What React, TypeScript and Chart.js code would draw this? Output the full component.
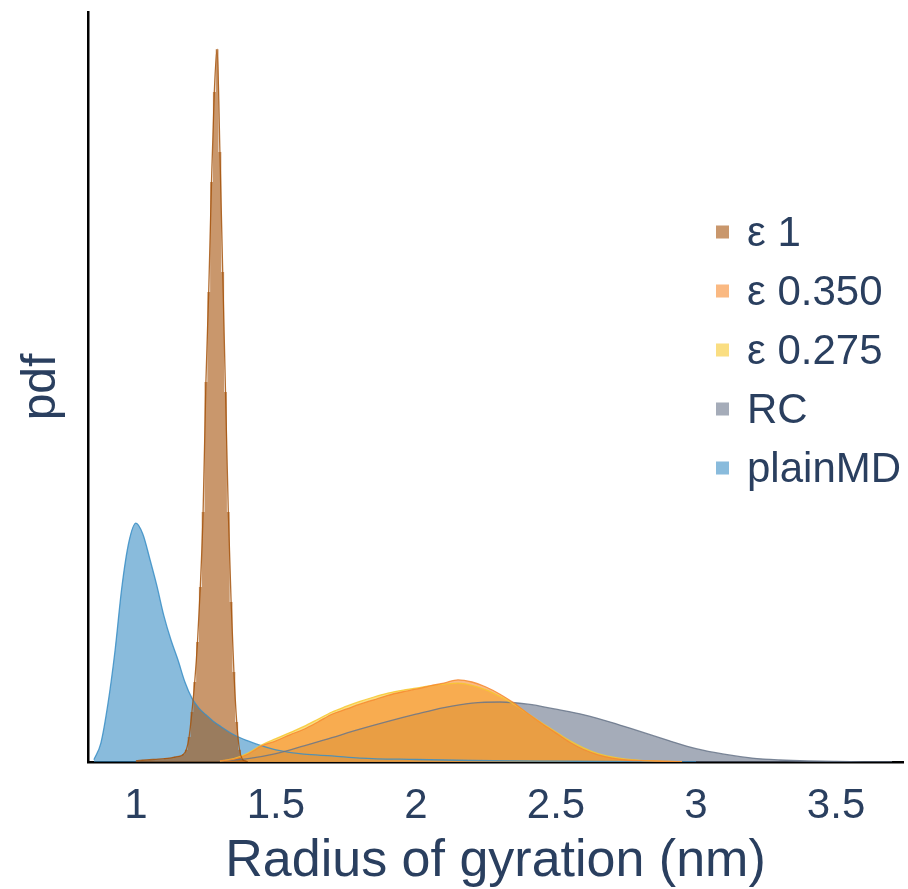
import React, { useEffect, useRef } from "react";
import { Chart, registerables } from "chart.js";

Chart.register(...registerables);

const FONT = '"Liberation Sans", Arial, Helvetica, sans-serif';
const TEXT_COLOR = "#2a3f5f";

const SERIES_NAMES = ["ε 1", "ε 0.350", "ε 0.275", "RC", "plainMD"];
const SERIES_COLORS = [
  "165,82,10",
  "247,138,47",
  "247,200,47",
  "105,117,138",
  "58,142,197",
];

const X_MIN = 0.829;
const X_MAX = 3.739;
const X_STEP = 0.5;
const Y_MAX = 13.5;

// ε 1 (histogram, fine bins)
const EPS1_X = [1.0, 1.04, 1.08, 1.12, 1.14, 1.16, 1.17, 1.18, 1.19, 1.2, 1.21, 1.22, 1.23, 1.24, 1.25, 1.26, 1.27, 1.28, 1.29, 1.3, 1.31, 1.32, 1.33, 1.34, 1.35, 1.36, 1.37, 1.38, 1.39, 1.4];
const EPS1_PDF = [0.02, 0.04, 0.05, 0.07, 0.09, 0.11, 0.14, 0.22, 0.45, 0.9, 1.44, 2.16, 3.15, 4.5, 6.84, 8.46, 10.44, 12.06, 12.83, 10.98, 8.82, 6.66, 4.5, 2.88, 1.62, 0.72, 0.22, 0.05, 0.02, 0.0];

// ε 0.350
const EPS350_X = [1.3, 1.35, 1.4, 1.45, 1.5, 1.55, 1.6, 1.65, 1.7, 1.75, 1.8, 1.85, 1.9, 1.95, 2.0, 2.05, 2.1, 2.15, 2.2, 2.25, 2.3, 2.35, 2.4, 2.45, 2.5, 2.55, 2.6, 2.65, 2.7, 2.75, 2.8, 2.85, 2.9, 2.95];
const EPS350_PDF = [0.02, 0.05, 0.14, 0.29, 0.38, 0.49, 0.59, 0.72, 0.86, 0.95, 1.04, 1.12, 1.2, 1.26, 1.31, 1.37, 1.42, 1.48, 1.44, 1.35, 1.22, 1.06, 0.87, 0.69, 0.52, 0.35, 0.22, 0.13, 0.07, 0.036, 0.023, 0.018, 0.009, 0.004];

// ε 0.275
const EPS275_X = [1.3, 1.35, 1.4, 1.45, 1.5, 1.55, 1.6, 1.65, 1.7, 1.75, 1.8, 1.85, 1.9, 1.95, 2.0, 2.05, 2.1, 2.15, 2.2, 2.25, 2.3, 2.35, 2.4, 2.45, 2.5, 2.55, 2.6, 2.65, 2.7, 2.75, 2.8, 2.85, 2.9, 2.95];
const EPS275_PDF = [0.02, 0.06, 0.16, 0.31, 0.42, 0.53, 0.64, 0.77, 0.9, 1.0, 1.09, 1.17, 1.24, 1.29, 1.33, 1.37, 1.4, 1.42, 1.38, 1.3, 1.18, 1.04, 0.87, 0.7, 0.54, 0.38, 0.25, 0.15, 0.09, 0.05, 0.03, 0.02, 0.01, 0.005];

// RC
const RC_X = [1.3, 1.4, 1.5, 1.6, 1.7, 1.8, 1.9, 2.0, 2.1, 2.2, 2.3, 2.4, 2.5, 2.6, 2.7, 2.8, 2.9, 3.0, 3.1, 3.2, 3.3, 3.4, 3.5, 3.6, 3.7];
const RC_PDF = [0.02, 0.06, 0.15, 0.29, 0.44, 0.59, 0.73, 0.86, 0.98, 1.06, 1.08, 1.04, 0.95, 0.85, 0.71, 0.55, 0.39, 0.24, 0.14, 0.07, 0.036, 0.018, 0.009, 0.004, 0.002];

// plainMD
const PLAIN_X = [0.85, 0.875, 0.9, 0.925, 0.95, 0.975, 1.0, 1.025, 1.05, 1.075, 1.1, 1.125, 1.15, 1.175, 1.2, 1.225, 1.25, 1.275, 1.3, 1.35, 1.4, 1.45, 1.5, 1.6, 1.7, 1.8, 2.0, 2.2, 2.5, 2.8, 3.0];
const PLAIN_PDF = [0.04, 0.34, 1.04, 1.98, 3.15, 3.96, 4.3, 4.1, 3.65, 3.17, 2.63, 2.2, 1.84, 1.44, 1.15, 0.97, 0.85, 0.74, 0.65, 0.49, 0.38, 0.29, 0.22, 0.14, 0.11, 0.07, 0.045, 0.027, 0.014, 0.005, 0.002];

const SERIES_X = [EPS1_X, EPS350_X, EPS275_X, RC_X, PLAIN_X];
const SERIES_PDF = [EPS1_PDF, EPS350_PDF, EPS275_PDF, RC_PDF, PLAIN_PDF];

const toPoints = (xs: number[], ys: number[]) => xs.map((x, i) => ({ x, y: ys[i] }));

const insideLegend = {
  id: "insideLegend",
  afterDraw(chart: any) {
    const { ctx, chartArea } = chart;
    const x0 = chartArea.right - 187;
    const y0 = chartArea.top + 220;
    const step = 59;
    ctx.save();
    ctx.font = `42px ${FONT}`;
    ctx.textBaseline = "middle";
    ctx.textAlign = "left";
    SERIES_NAMES.forEach((name, i) => {
      const y = y0 + i * step;
      ctx.fillStyle = `rgba(${SERIES_COLORS[i]},0.6)`;
      ctx.fillRect(x0, y - 6.5, 13, 13);
      ctx.fillStyle = TEXT_COLOR;
      ctx.fillText(name, x0 + 31, y + 2);
    });
    ctx.restore();
  },
};

export default function App() {
  const canvasRef = useRef<HTMLCanvasElement | null>(null);

  useEffect(() => {
    if (!canvasRef.current) return;
    const lineSets = SERIES_NAMES.map((name, i) => ({
      label: name + " kde",
      data: toPoints(SERIES_X[i], SERIES_PDF[i]),
      borderColor: `rgba(${SERIES_COLORS[i]},0.85)`,
      borderWidth: 1.3,
      pointRadius: 0,
      fill: false,
      cubicInterpolationMode: "monotone" as const,
    }));
    const fillSets = SERIES_NAMES.map((name, i) => ({
      label: name,
      data: toPoints(SERIES_X[i], SERIES_PDF[i]),
      borderWidth: 0,
      borderColor: "rgba(0,0,0,0)",
      backgroundColor: `rgba(${SERIES_COLORS[i]},0.6)`,
      pointRadius: 0,
      fill: "origin",
      stepped: i === 0 ? ("middle" as const) : false,
      cubicInterpolationMode: "monotone" as const,
    }));

    const chart = new Chart(canvasRef.current, {
      type: "line",
      data: { datasets: [...lineSets, ...fillSets] as any },
      options: {
        animation: false,
        responsive: false,
        maintainAspectRatio: false,
        layout: { padding: { top: 12, right: 5, left: 0, bottom: 0 } },
        plugins: { legend: { display: false }, tooltip: { enabled: false } },
        scales: {
          x: {
            type: "linear",
            min: X_MIN,
            max: X_MAX,
            grid: { display: false, drawTicks: false },
            border: { display: true, color: "#000", width: 2.5 },
            ticks: {
              stepSize: X_STEP,
              includeBounds: false,
              padding: 19,
              color: TEXT_COLOR,
              font: { family: FONT, size: 42, lineHeight: 1.2 },
              maxRotation: 0,
              callback: (v: any) => String(Number(v)),
            },
            title: {
              display: true,
              text: "Radius of gyration (nm)",
              color: TEXT_COLOR,
              font: { family: FONT, size: 52, lineHeight: 1 },
              padding: { top: 0, bottom: 1 },
            },
            afterFit: (scale: any) => {
              scale.height = 127;
            },
          },
          y: {
            type: "linear",
            min: 0,
            max: Y_MAX,
            grid: { display: false, drawTicks: false },
            border: { display: true, color: "#000", width: 2.5 },
            ticks: { display: false },
            title: {
              display: true,
              text: "pdf",
              color: TEXT_COLOR,
              font: { family: FONT, size: 48, lineHeight: 1.2 },
              padding: { top: 13, bottom: 0 },
            },
            afterFit: (scale: any) => {
              scale.width = 88;
            },
          },
        },
      },
      plugins: [insideLegend],
    });
    return () => chart.destroy();
  }, []);

  return (
    <div style={{ position: "fixed", left: 0, top: 0, width: 908, height: 889, background: "#fff" }}>
      <canvas ref={canvasRef} width={908} height={889} style={{ display: "block" }} />
    </div>
  );
}
